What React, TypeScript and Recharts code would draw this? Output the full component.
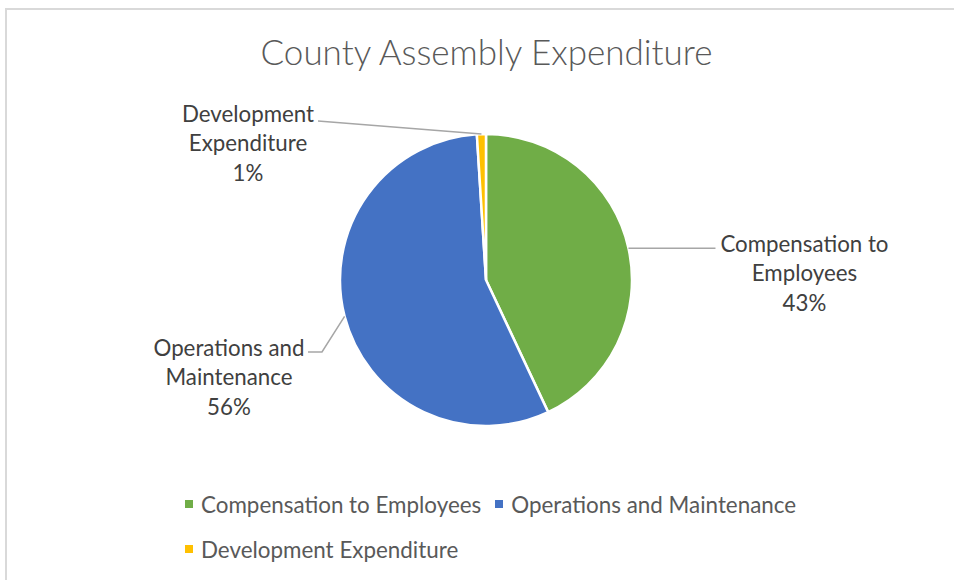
import React from 'react';
import { PieChart, Pie, Cell, Legend } from 'recharts';

const categories = ['Compensation to Employees', 'Operations and Maintenance', 'Development Expenditure'];
const shares = [43, 56, 1];
const percentLabels = ['43%', '56%', '1%'];
const labelLines = [
  ['Compensation to', 'Employees'],
  ['Operations and', 'Maintenance'],
  ['Development', 'Expenditure'],
];
const colors = ['#70AD47', '#4472C4', '#FFC000'];

const data = categories.map((name, i) => ({ name, value: shares[i] }));

// label layout offsets relative to slice edge point (pixels)
const labelLayout = [
  { path: [[87, 0]], tx: 176, ty: -5, anchor: 'middle' },
  { path: [[-22.6, 35.7], [-36.6, 35.7]], tx: -115.6, ty: 30.7, anchor: 'middle' },
  { path: [[-163.4, -13]], tx: -233.4, ty: -21, anchor: 'middle' },
];

const FONT = 'Lato, "Noto Sans", sans-serif';
const RAD = Math.PI / 180;
const LINE_H = 29.5;

const renderLabel = (props: any) => {
  const { cx, cy, midAngle, outerRadius, index } = props;
  const ex = cx + outerRadius * Math.cos(-midAngle * RAD);
  const ey = cy + outerRadius * Math.sin(-midAngle * RAD);
  const lay = labelLayout[index];
  const pts = [[ex, ey], ...lay.path.map(([dx, dy]) => [ex + dx, ey + dy])];
  const d = pts.map((p, i) => `${i === 0 ? 'M' : 'L'}${p[0]},${p[1]}`).join(' ');
  const lines = [...labelLines[index], percentLabels[index]];
  return (
    <g key={`lbl-${index}`}>
      <path d={d} stroke="#A6A6A6" strokeWidth={1.5} fill="none" />
      {lines.map((t, i) => (
        <text
          key={i}
          x={ex + lay.tx}
          y={ey + lay.ty + i * LINE_H}
          textAnchor={lay.anchor as any}
          dominantBaseline="central"
          fill="#404040"
          fontSize={22.3}
          fontFamily={FONT}
        >
          {t}
        </text>
      ))}
    </g>
  );
};

const renderLegend = (props: any) => {
  const payload = props.payload && props.payload.length ? props.payload : categories.map((c, i) => ({ value: c, color: colors[i] }));
  return (
    <div style={{ display: 'flex', flexWrap: 'wrap', width: 640, rowGap: 17 }}>
      {payload.map((p: any, i: number) => (
        <div key={i} style={{ display: 'flex', alignItems: 'center', marginRight: 14, height: 28 }}>
          <div style={{ width: 8, height: 8, background: colors[i], marginRight: 8 }} />
          <span style={{ fontFamily: FONT, fontSize: 22.4, color: '#595959', whiteSpace: 'nowrap' }}>{categories[i]}</span>
        </div>
      ))}
    </div>
  );
};

export default function App() {
  return (
    <div style={{ position: 'fixed', left: 0, top: 0, width: 954, height: 580, overflow: 'hidden', background: '#fff' }}>
      <div
        style={{
          position: 'absolute',
          left: 5,
          top: 8,
          width: 1000,
          height: 700,
          borderTop: '2px solid #D9D9D9',
          borderLeft: '2px solid #D9D9D9',
        }}
      />
      <div
        style={{
          position: 'absolute',
          left: 0,
          top: 29,
          width: 973,
          textAlign: 'center',
          fontFamily: FONT,
          fontWeight: 300,
          fontSize: 35,
          color: '#595959',
          lineHeight: '44px',
        }}
      >
        County Assembly Expenditure
      </div>
      <div style={{ position: 'absolute', left: 0, top: 0 }}>
        <PieChart width={954} height={580} margin={{ top: 0, right: 0, bottom: 0, left: 0 }}>
          <Pie
            data={data}
            dataKey="value"
            nameKey="name"
            cx={486}
            cy={280}
            outerRadius={146}
            startAngle={90}
            endAngle={-270}
            stroke="#FFFFFF"
            strokeWidth={2.5}
            label={renderLabel}
            labelLine={false}
            isAnimationActive={false}
          >
            {data.map((d, i) => (
              <Cell key={d.name} fill={colors[i]} />
            ))}
          </Pie>
          <Legend
            content={renderLegend}
            wrapperStyle={{ position: 'absolute', left: 185, top: 490, width: 660 }}
          />
        </PieChart>
      </div>
    </div>
  );
}
